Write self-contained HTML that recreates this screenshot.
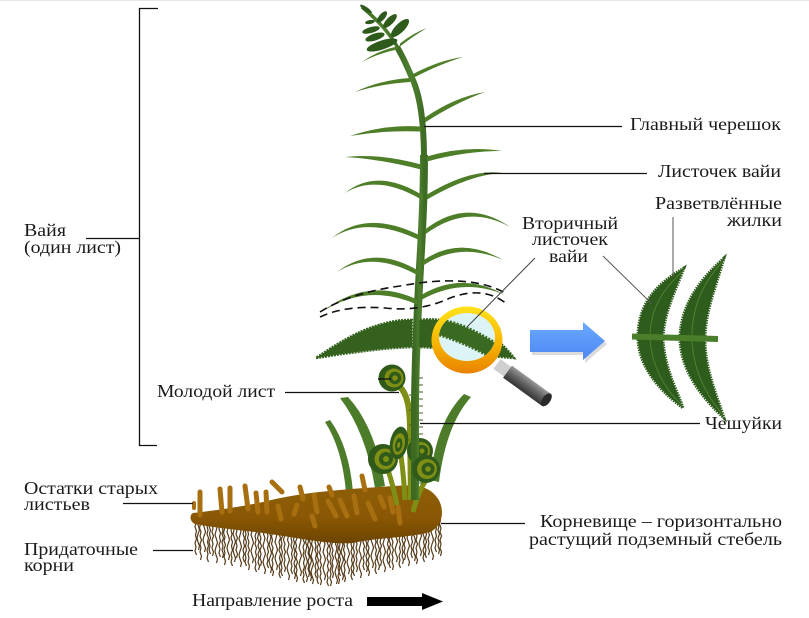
<!DOCTYPE html>
<html><head><meta charset="utf-8"><style>
html,body{margin:0;padding:0;background:#fff;}
svg{display:block;}
text{font-family:"Liberation Serif","DejaVu Serif",serif;font-size:18px;fill:#1a1a1a;}
</style></head><body>
<svg width="809" height="618" viewBox="0 0 809 618" xmlns="http://www.w3.org/2000/svg">
<defs>
<linearGradient id="rz" x1="0" y1="0" x2="0" y2="1"><stop offset="0" stop-color="#8e5e06"/><stop offset="0.55" stop-color="#8a5805"/><stop offset="1" stop-color="#6c4400"/></linearGradient>
<linearGradient id="ring" x1="0" y1="0" x2="0" y2="1"><stop offset="0" stop-color="#ffe21a"/><stop offset="0.55" stop-color="#f7b500"/><stop offset="1" stop-color="#e88200"/></linearGradient>
<linearGradient id="hd" x1="0" y1="0" x2="0" y2="1"><stop offset="0" stop-color="#9a9a9a"/><stop offset="0.4" stop-color="#6a6a6a"/><stop offset="1" stop-color="#333"/></linearGradient>
<linearGradient id="bl" x1="0" y1="0" x2="0" y2="1"><stop offset="0" stop-color="#6aa9ff"/><stop offset="1" stop-color="#4a88f2"/></linearGradient>
<linearGradient id="st" x1="0" y1="0" x2="1" y2="0"><stop offset="0" stop-color="#3c6a22"/><stop offset="0.5" stop-color="#4f8030"/><stop offset="1" stop-color="#3f6c24"/></linearGradient>
<clipPath id="rc"><rect x="180" y="519" width="275" height="80"/></clipPath>
<clipPath id="lens"><ellipse cx="467" cy="337" rx="28" ry="24"/></clipPath>
<path id="r1" d="M0,0 l-1,4 l1.5,4 l-1.5,4 l1,4 l-1,4 l1.5,4 l-1,4 l1,4 l-1.5,4 l1,4 l-1,4 l1.5,4"/>
<path id="r2" d="M0,0 l1,4 l-1.5,4 l1,4 l-1,4 l1.5,4 l-1,4 l1.5,4 l-1.5,4 l1,4 l-1,4 l1.5,4 l-1,4"/>
<path id="r3" d="M0,0 l0.5,4 l-1,4 l1.5,4 l-1,4 l-1,4 l1.5,4 l1,4 l-1.5,4 l-1,4 l1,4 l1.5,4 l-1,4"/>
</defs>
<rect x="0" y="0" width="809" height="618" fill="#fff"/>
<rect x="0" y="0" width="809" height="1" fill="#e6e6e6"/>

<!-- bracket -->
<g stroke="#111" stroke-width="1.3" fill="none">
<path d="M158,8.5 H139.5 V445.5 H157"/>
<path d="M86,238.5 H139.5"/>
</g>

<!-- roots -->
<g clip-path="url(#rc)" stroke="#553a18" stroke-width="1.2" fill="none">
<use href="#r1" x="196" y="507"/><use href="#r2" x="200" y="512"/><use href="#r3" x="204" y="504"/><use href="#r1" x="208" y="514"/>
<use href="#r2" x="212" y="508"/><use href="#r3" x="216" y="515"/><use href="#r1" x="220" y="509"/><use href="#r2" x="224" y="517"/>
<use href="#r3" x="228" y="512"/><use href="#r1" x="232" y="518"/><use href="#r2" x="236" y="510"/><use href="#r3" x="240" y="519"/>
<use href="#r1" x="244" y="514"/><use href="#r2" x="248" y="522"/><use href="#r3" x="252" y="515"/><use href="#r1" x="256" y="524"/>
<use href="#r2" x="260" y="518"/><use href="#r3" x="264" y="526"/><use href="#r1" x="268" y="520"/><use href="#r2" x="272" y="528"/>
<use href="#r3" x="276" y="522"/><use href="#r1" x="280" y="530"/><use href="#r2" x="284" y="524"/><use href="#r3" x="288" y="532"/>
<use href="#r1" x="292" y="526"/><use href="#r2" x="296" y="534"/><use href="#r3" x="300" y="528"/><use href="#r1" x="304" y="535"/>
<use href="#r2" x="308" y="529"/><use href="#r3" x="312" y="536"/><use href="#r1" x="316" y="530"/><use href="#r2" x="320" y="537"/>
<use href="#r3" x="324" y="532"/><use href="#r1" x="328" y="538"/><use href="#r2" x="332" y="530"/><use href="#r3" x="336" y="536"/>
<use href="#r1" x="340" y="528"/><use href="#r2" x="344" y="534"/><use href="#r3" x="348" y="526"/><use href="#r1" x="352" y="532"/>
<use href="#r2" x="356" y="524"/><use href="#r3" x="360" y="530"/><use href="#r1" x="364" y="522"/><use href="#r2" x="368" y="528"/>
<use href="#r3" x="372" y="520"/><use href="#r1" x="376" y="526"/><use href="#r2" x="380" y="518"/><use href="#r3" x="384" y="524"/>
<use href="#r1" x="388" y="516"/><use href="#r2" x="392" y="522"/><use href="#r3" x="396" y="514"/><use href="#r1" x="400" y="520"/>
<use href="#r2" x="404" y="512"/><use href="#r3" x="408" y="518"/><use href="#r1" x="412" y="510"/><use href="#r2" x="416" y="516"/>
<use href="#r3" x="420" y="508"/><use href="#r1" x="424" y="514"/><use href="#r2" x="428" y="507"/><use href="#r3" x="432" y="512"/>
<use href="#r1" x="436" y="504"/><use href="#r2" x="440" y="508"/><use href="#r3" x="310" y="533"/><use href="#r2" x="338" y="536"/>
<use href="#r3" x="198" y="502"/><use href="#r1" x="210" y="506"/><use href="#r2" x="222" y="510"/><use href="#r3" x="234" y="514"/>
<use href="#r1" x="246" y="518"/><use href="#r2" x="258" y="522"/><use href="#r3" x="270" y="525"/><use href="#r1" x="282" y="528"/>
<use href="#r2" x="294" y="531"/><use href="#r3" x="306" y="534"/><use href="#r1" x="318" y="536"/><use href="#r2" x="330" y="538"/>
<use href="#r3" x="342" y="532"/><use href="#r1" x="354" y="528"/><use href="#r2" x="366" y="524"/><use href="#r3" x="378" y="522"/>
<use href="#r1" x="390" y="520"/><use href="#r2" x="402" y="516"/><use href="#r3" x="414" y="513"/><use href="#r1" x="426" y="510"/>
<use href="#r2" x="438" y="506"/>
</g>

<!-- grass blades -->
<g fill="#4c7c29">
<path d="M325,422 L330,420 Q349,446 353,492 L346,492 Q342,448 325,422 Z"/>
<path d="M340,398 L348,397 Q375,426 385,486 L375,488 Q366,432 340,398 Z"/>
<path d="M464,394 L471,397 Q446,425 439,482 L430,480 Q436,422 464,394 Z"/>
</g>

<!-- rhizome -->
<path d="M193,513 C220,510 245,506 263,502 C300,492 350,489 380,487 C405,485 425,483 435,495 C445,505 445,525 430,532 C410,538 380,537 353,543 C330,545 300,538 263,533 C240,530 215,528 195,524 C190,522 189,515 193,513 Z" fill="url(#rz)"/>
<g stroke="#a86f10" stroke-width="5" stroke-linecap="round" fill="none">
<path d="M200,492 L200,515"/><path d="M194,503 L194,508" stroke-width="4"/><path d="M220,489 L222,512"/><path d="M230,488 L230,511"/>
<path d="M245,486 L248,509"/><path d="M256,493 L258,512"/><path d="M266,492 L267,512"/><path d="M272,482 L282,492"/>
<path d="M278,506 L281,519"/><path d="M300,487 L303,499"/><path d="M297,505 L294,514"/><path d="M314,495 L317,512"/>
<path d="M329,487 L332,495"/><path d="M328,501 L336,516"/><path d="M340,500 L347,516"/><path d="M362,476 L365,490"/>
<path d="M354,496 L357,513"/><path d="M368,503 L375,519"/><path d="M390,498 L393,512"/><path d="M398,507 L400,523"/>
<path d="M312,516 L315,526"/><path d="M380,497 L384,507"/>
</g>

<!-- olive stalks -->
<g stroke="#7f8e14" fill="none" stroke-linecap="butt">
<path d="M399,386 C408,394 410,410 410,430 L411,500" stroke-width="6"/>
<path d="M388,470 Q393,485 397,505" stroke-width="5"/>
<path d="M401,456 Q404,478 405,500" stroke-width="5"/>
<path d="M426,480 Q418,492 413,512" stroke-width="5"/>
</g>

<!-- F3 behind stem -->
<circle cx="420" cy="451" r="13" fill="#2f5a1a"/><circle cx="421" cy="451" r="9" fill="#7f8f15"/><circle cx="422" cy="451" r="6" fill="#2f5a1a"/><circle cx="422" cy="451" r="2.5" fill="#7f8f15"/>

<!-- main stem -->
<g fill="none" stroke="url(#st)" stroke-linecap="butt">
<path d="M415,500 L415,400 C416,340 418,300 421,250 C423,215 424,185 424,155" stroke-width="8"/>
<path d="M424,160 C424,120 420,95 412,78 C407,66 402,55 397,47" stroke-width="6"/>
<path d="M399,50 C392,36 380,22 362,7" stroke-width="3.5"/>
</g>
<!-- scales -->
<path d="M419,378h4M419,385h4M419,392h4M419,399h4M419,406h4M419,413h4M419,420h4M419,427h4M419,434h4M419,441h4M419,448h4M419,455h4M419,462h4M419,469h4M419,476h4M419,483h4M411,395h-2M411,410h-2M411,425h-2M411,440h-2" stroke="#3d5e1e" stroke-width="1"/>

<!-- lower fiddleheads -->
<circle cx="383" cy="459" r="15" fill="#2f5a1a"/><circle cx="385" cy="459" r="10.5" fill="#7f8f15"/><circle cx="386" cy="459" r="7" fill="#2f5a1a"/><circle cx="386" cy="459" r="3" fill="#7f8f15"/>
<g transform="rotate(10 399 443)"><ellipse cx="399" cy="443" rx="9" ry="16.5" fill="#2f5a1a"/><ellipse cx="399" cy="444" rx="6" ry="11" fill="#7f8f15"/><ellipse cx="399" cy="445" rx="3.5" ry="7" fill="#2f5a1a"/><ellipse cx="399" cy="445" rx="1.5" ry="3" fill="#7f8f15"/></g>
<circle cx="426" cy="469" r="14" fill="#2f5a1a"/><circle cx="427" cy="469" r="10" fill="#7f8f15"/><circle cx="428" cy="469" r="6.5" fill="#2f5a1a"/><circle cx="428" cy="469" r="2.8" fill="#7f8f15"/>

<!-- young leaf -->
<circle cx="392" cy="378" r="13.5" fill="#2f5a1a"/><circle cx="394" cy="378" r="9.5" fill="#7f8f15"/><circle cx="395" cy="378" r="6.2" fill="#2f5a1a"/><circle cx="395" cy="378" r="2.8" fill="#7f8f15"/>

<!-- frond leaflets -->
<g fill="#4f7e29">
<path d="M400,43.5 Q414,32.5 427,28 Q414,35.5 400,46.5 Z"/>
<path d="M397,46.5 Q378,50.5 362,62 Q378,53.5 397,49.5 Z"/>
<path d="M413,74 Q440,60 463,57 Q440,64 413,78 Z"/>
<path d="M410,78 Q380,80 355,92 Q380,84 410,82 Z"/>
<path d="M425,117.5 Q455,97 485,92 Q455,103 425,122.5 Z"/>
<path d="M421,126.5 Q385,124 350,136 Q385,130 421,131.5 Z"/>
<path d="M427,156.5 Q465,145 502,151 Q465,151 427,161.5 Z"/>
<path d="M421,164.5 Q380,153 345,157 Q380,159 421,169.5 Z"/>
<path d="M427,194.5 Q471,168 503,173 Q471,174 427,199.5 Z"/>
<path d="M423,195.5 Q377,167 345,193 Q377,173 423,200.5 Z"/>
<path d="M425,229.5 Q467,197 510,227 Q467,203 425,234.5 Z"/>
<path d="M420,235.5 Q367,209 332,238 Q367,215 420,240.5 Z"/>
<path d="M423,260.5 Q460,235 503,260 Q460,241 423,265.5 Z"/>
<path d="M418,270.5 Q373,244 337,272 Q373,250 418,275.5 Z"/>
<path d="M422,294.5 Q463,271 505,295 Q463,277 422,299.5 Z"/>
<path d="M417,299.5 Q367,276 320,313 Q367,282 417,304.5 Z"/>
</g>
<!-- top cluster -->
<g fill="#2e5b1c">
<ellipse cx="366" cy="9" rx="7" ry="2" transform="rotate(35 366 9)"/>
<ellipse cx="371" cy="30" rx="9" ry="3" transform="rotate(-15 371 30)"/>
<ellipse cx="375" cy="37" rx="10" ry="3.5" transform="rotate(-18 375 37)"/>
<ellipse cx="382" cy="45" rx="16" ry="4.5" transform="rotate(-18 382 45)"/>
<ellipse cx="382" cy="17" rx="7" ry="3" transform="rotate(-50 382 17)"/>
<ellipse cx="390" cy="21" rx="9" ry="3.5" transform="rotate(-45 390 21)"/>
<ellipse cx="400" cy="28" rx="12" ry="4.5" transform="rotate(-45 400 28)"/>
<ellipse cx="370" cy="22" rx="5" ry="2" transform="rotate(-10 370 22)"/>
</g>

<!-- dashed curves -->
<g fill="none" stroke="#111" stroke-width="1.6" stroke-dasharray="8 5">
<path d="M320,312 Q350,293 400,286 Q470,273 505,293"/>
<path d="M320,317 Q345,305 385,308 Q420,312 450,298 Q485,285 508,305"/>
</g>

<!-- secondary pinnate leaf -->
<g fill="#34621e" stroke="#34621e" stroke-width="2.5" stroke-dasharray="2 1">
<path d="M412,320 C395,319 370,326 350,337 C335,345 325,352 316,358 C330,356 340,354 350,353 C365,351 385,348 412,347 Z"/>
<path d="M420,320 C440,317 470,325 490,335 C500,342 508,350 514,358 C500,357 490,356 480,354 C460,350 440,348 420,347 Z"/>
</g>

<!-- magnifier -->
<g transform="translate(497,364) rotate(36)">
<rect x="0" y="-6" width="14" height="12" fill="#cfcfcf"/>
<rect x="13" y="-7.5" width="48" height="15" fill="url(#hd)"/>
<ellipse cx="61" cy="0" rx="4" ry="7.5" fill="#2a2a2a"/>
</g>
<ellipse cx="467" cy="340" rx="35.5" ry="33.5" fill="url(#ring)"/>
<ellipse cx="467" cy="337" rx="28" ry="24" fill="#ddf4f7"/>
<g clip-path="url(#lens)">
<path d="M436,320 C455,320 478,332 500,346 L500,362 C478,350 458,340 436,334 Z" fill="#3a6a22" stroke="#3a6a22" stroke-width="3" stroke-dasharray="2 1.5"/>
</g>
<path d="M535,258 L467,327" stroke="#444" stroke-width="1"/>

<!-- blue arrow -->
<polygon points="532,333 585,333 585,325 607,344 585,363 585,355 532,355" fill="#999" opacity="0.35"/>
<polygon points="530,330 583,330 583,322 605,341 583,360 583,352 530,352" fill="url(#bl)"/>

<!-- magnified leaflets -->
<g fill="#2e5c1c" stroke="#2e5c1c" stroke-width="3" stroke-dasharray="1.5 1">
<path d="M684,268 C660,282 639,300 638,335 C637,366 660,391 683,408 C678,392 665,370 663,340 C663,315 675,292 684,268 Z"/>
<path d="M724,258 C705,275 682,300 680,335 C679,368 700,396 724,418 C718,398 705,370 705,340 C705,312 715,290 724,258 Z"/>
</g>
<g fill="none" stroke="#4f8030" stroke-width="1">
<path d="M682,272 C662,290 650,310 650,337 C651,365 665,390 682,405"/>
<path d="M722,262 C704,282 692,305 692,337 C692,368 706,395 722,414"/>
</g>
<path d="M632,336.5 L718,339" stroke="#4a7e2a" stroke-width="6"/>

<!-- black arrow -->
<polygon points="367,597 422,597 422,593 443,601.5 422,610 422,606 367,606" fill="#000"/>

<!-- connector lines -->
<g stroke="#111" stroke-width="1.3" fill="none">
<path d="M424,126.5 H622"/>
<path d="M484,173.5 H647"/>
<path d="M420,423.5 H700"/>
<path d="M285,392.5 H399"/>
<path d="M378,379 H391"/>
<path d="M123,503.5 H193"/>
<path d="M153,550.5 H193"/>
<path d="M441,523.5 H525"/>
</g>
<g stroke="#555" stroke-width="1" fill="none">
<path d="M673,217 V277"/>
<path d="M603,256 L652,304"/>
</g>

<!-- labels -->
<text x="630" y="130" textLength="151" lengthAdjust="spacingAndGlyphs">Главный черешок</text>
<text x="658" y="177" textLength="123" lengthAdjust="spacingAndGlyphs">Листочек вайи</text>
<text x="655" y="209" textLength="127" lengthAdjust="spacingAndGlyphs">Разветвлённые</text>
<text x="727" y="226" textLength="55" lengthAdjust="spacingAndGlyphs">жилки</text>
<text x="522" y="229" textLength="96" lengthAdjust="spacingAndGlyphs">Вторичный</text>
<text x="532" y="245" textLength="76" lengthAdjust="spacingAndGlyphs">листочек</text>
<text x="549" y="262" textLength="39" lengthAdjust="spacingAndGlyphs">вайи</text>
<text x="705" y="429" textLength="77" lengthAdjust="spacingAndGlyphs">Чешуйки</text>
<text x="540" y="527" textLength="242" lengthAdjust="spacingAndGlyphs">Корневище – горизонтально</text>
<text x="529" y="545" textLength="253" lengthAdjust="spacingAndGlyphs">растущий подземный стебель</text>
<text x="192" y="606" textLength="161" lengthAdjust="spacingAndGlyphs">Направление роста</text>
<text x="157" y="397" textLength="118" lengthAdjust="spacingAndGlyphs">Молодой лист</text>
<text x="24" y="236" textLength="42" lengthAdjust="spacingAndGlyphs">Вайя</text>
<text x="24" y="253" textLength="97" lengthAdjust="spacingAndGlyphs">(один лист)</text>
<text x="24" y="494" textLength="134" lengthAdjust="spacingAndGlyphs">Остатки старых</text>
<text x="24" y="510" textLength="66" lengthAdjust="spacingAndGlyphs">листьев</text>
<text x="24" y="555" textLength="114" lengthAdjust="spacingAndGlyphs">Придаточные</text>
<text x="24" y="571" textLength="50" lengthAdjust="spacingAndGlyphs">корни</text>
</svg>
</body></html>
